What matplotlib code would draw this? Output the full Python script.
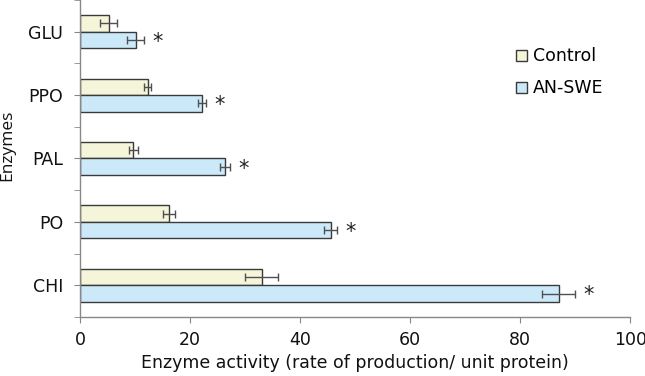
import matplotlib.pyplot as plt
import numpy as np

# Data (bottom to top)
enzymes = ['CHI', 'PO', 'PAL', 'PPO', 'GLU']
control = [33.0, 16.1, 9.7, 12.3, 5.2]
control_err = [3.0, 1.1, 0.85, 0.6, 1.5]
treated = [87.0, 45.6, 26.4, 22.2, 10.1]
treated_err = [3.0, 1.2, 0.9, 0.75, 1.55]
series_names = ['Control', 'AN-SWE']

fig = plt.figure(figsize=(6.45, 3.76), dpi=100)
ax = fig.add_axes([0.124, 0.157, 0.853, 0.843])

y = np.arange(len(enzymes))
h = 0.26
err_kw = dict(ecolor='#505050', elinewidth=1, capsize=3, capthick=1)

ax.barh(y + h / 2, control, height=h, xerr=control_err, color='#f5f5da',
        edgecolor='#3a3a3a', linewidth=1, error_kw=err_kw, label=series_names[0])
ax.barh(y - h / 2, treated, height=h, xerr=treated_err, color='#cce9fa',
        edgecolor='#3a3a3a', linewidth=1, error_kw=err_kw, label=series_names[1])

# significance stars
for yi, v, e in zip(y, treated, treated_err):
    ax.text(v + e + 1.5, yi - h / 2 - 0.03, '*', fontsize=15, va='center',
            ha='left', color='#222222')

ax.set_xlim(0, 100)
ax.set_ylim(-0.5, len(enzymes) - 0.5)
ax.set_xticks(np.arange(0, 101, 20))
ax.set_yticks(y)
ax.set_yticklabels(enzymes)
ax.set_yticks(np.arange(-0.5, len(enzymes), 1.0), minor=True)
ax.tick_params(axis='both', which='both', direction='out', length=4,
               color='#888888', labelsize=12.5, labelcolor='#111111')
ax.tick_params(axis='y', pad=8)
ax.tick_params(axis='x', pad=6)

for s in ['top', 'right']:
    ax.spines[s].set_visible(False)
for s in ['left', 'bottom']:
    ax.spines[s].set_color('#888888')
    ax.spines[s].set_linewidth(1)

ax.set_xlabel('Enzyme activity (rate of production/ unit protein)',
              fontsize=12.5, color='#111111', labelpad=4)
ax.set_ylabel('Enzymes', fontsize=12.5, family='Open Sans', color='#111111')
ax.yaxis.set_label_coords(-0.118, 0.543)

ax.legend(loc='upper left', bbox_to_anchor=(0.765, 0.9), frameon=False,
          fontsize=12.5, handlelength=0.6, handleheight=0.6,
          handletextpad=0.35, labelspacing=0.8)

fig.savefig('out.png', dpi=100)
